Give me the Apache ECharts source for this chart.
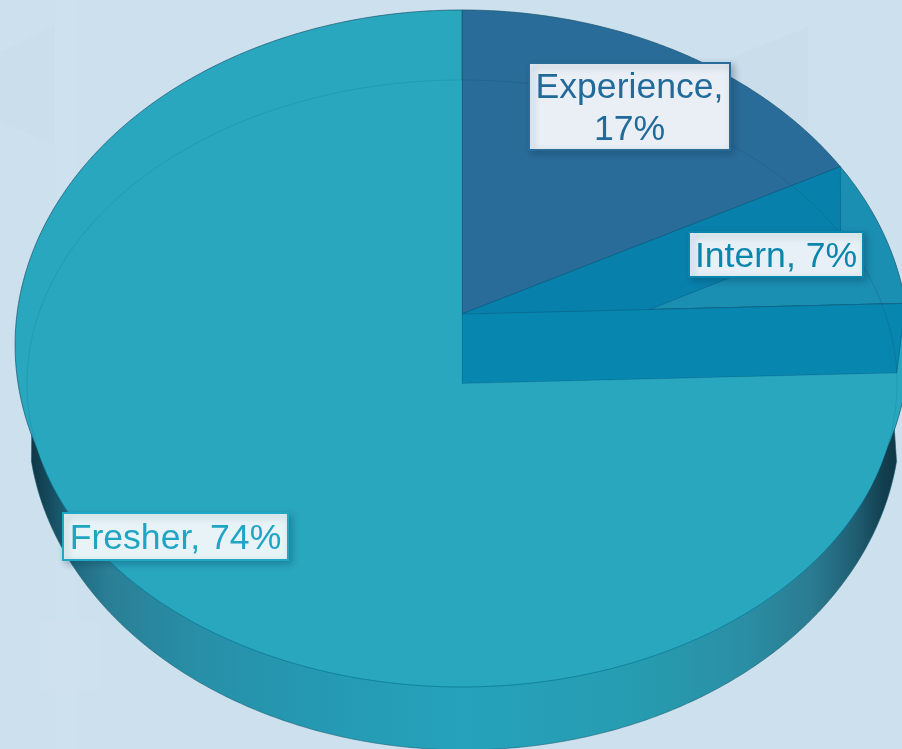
<!DOCTYPE html>
<html><head><meta charset="utf-8">
<style>html,body{margin:0;padding:0;background:#cde0ee}#c{width:902px;height:749px}</style>
<script src="https://cdn.jsdelivr.net/npm/echarts@6/dist/echarts.min.js"></script>
</head><body><div id="c"></div>
<script>
const categories = ['Experience', 'Intern', 'Fresher'];
const shares = [17, 7, 74];
const labelLines = ['Experience,\n17%', 'Intern, 7%', 'Fresher, 74%'];

const colors = ['#2a6c99', '#1a8fb2', '#28a7bf'];
const wallColors = ['#0781ac', '#0787b0'];
const labelText = ['#226a9a', '#0a86ad', '#1fa5c3'];
const labelFill = ['#e9eff5', '#e6f0f6', '#e7f3f7'];
const labelEdge = ['#2a6c99', '#0a86ad', '#1fa8c4'];
const labelBox = [[529, 63, 201, 87], [689, 232, 174, 45], [63, 513, 225, 47]];

const total = shares.reduce((a, b) => a + b, 0);
const cum = [0];
shares.forEach((v, i) => cum.push(cum[i] + v));
const angle = i => cum[i] / total * Math.PI * 2;

// upper rim of the disc, in perspective
const CX = 462, UY = 314, UA = 303.1, UC = -0.0925, UR = 445;
function upper(t) {
  const u = Math.sin(t), v = -Math.cos(t), d = 1 + UC * v;
  return [CX + UR * u / d, (UY + UA * v) / d];
}
// lower rim of the disc
const LY = 383.5, LRX = 435, LRY = 303.5;
function lower(t) {
  const s = t - 0.042 * Math.sin(2 * t);
  return [CX + LRX * Math.sin(s), LY - LRY * Math.cos(s)];
}
function arc(fn, a, b) {
  const pts = [], n = Math.max(2, Math.ceil(Math.abs(b - a) / 0.01));
  for (let i = 0; i <= n; i++) pts.push(fn(a + (b - a) * i / n));
  return pts;
}
// bottom silhouette
const BX = 464, BY = 420, BRX = 436, BRY = 330;
const bottom = t => [BX + BRX * Math.sin(t), BY - BRY * Math.cos(t)];

const wallGrad = new echarts.graphic.LinearGradient(0, 0, 1, 0, [
  {offset: 0, color: '#0f3646'}, {offset: 0.02, color: '#154a5c'},
  {offset: 0.05, color: '#1f6a80'}, {offset: 0.09, color: '#2a7f96'},
  {offset: 0.2, color: '#2790a8'}, {offset: 0.35, color: '#259ab4'},
  {offset: 0.5, color: '#26a2bc'}, {offset: 0.7, color: '#269cb0'},
  {offset: 0.82, color: '#2a8fa5'}, {offset: 0.9, color: '#2b7c92'},
  {offset: 0.95, color: '#205f74'}, {offset: 0.985, color: '#123f4f'},
  {offset: 1, color: '#0f3646'}
]);

function custom(z, data, renderItem) {
  return {type: 'custom', coordinateSystem: 'none', z, silent: true, animation: false,
          clip: false, data, renderItem};
}
const rows = shares.map((v, i) => [i, v]);

const option = {
  animation: false,
  backgroundColor: '#cde0ee',
  graphic: [
    {type: 'polygon', z: 0, shape: {points: [[0, 52], [55, 25], [55, 145], [0, 122]]},
     style: {fill: '#cadeeb'}},
    {type: 'polygon', z: 0, shape: {points: [[730, 58], [808, 27], [808, 150], [730, 120]]},
     style: {fill: '#c9ddeb'}},
    {type: 'rect', z: 0, shape: {x: 55, y: 0, width: 20, height: 749}, style: {fill: 'rgba(255,255,255,0.035)'}},
    {type: 'rect', z: 0, shape: {x: 40, y: 620, width: 60, height: 70}, style: {fill: 'rgba(255,255,255,0.03)'}}
  ],
  series: [
    // side wall
    custom(1, [rows[2]], () => {
      const pts = arc(bottom, Math.PI * 0.54, Math.PI * 1.46);
      return {type: 'polygon',
              shape: {points: [[CX, 300], [892, 395]].concat(pts, [[32, 400]])},
              style: {fill: wallGrad, stroke: 'rgba(20,90,110,0.55)', lineWidth: 1}};
    }),
    // upper face sectors
    custom(2, rows, (p) => {
      const i = p.dataIndex;
      const pts = [[CX, UY]].concat(arc(upper, angle(i), angle(i + 1)));
      return {type: 'polygon', shape: {points: pts},
              style: {fill: colors[i], stroke: 'rgba(25,85,110,0.7)', lineWidth: 1}};
    }),
    // radial walls between the sectors
    custom(3, [rows[0], rows[1]], (p) => {
      const i = p.dataIndex, t = angle(i + 1);
      return {type: 'polygon',
              shape: {points: [[CX, UY], upper(t), lower(t), [CX, LY]]},
              style: {fill: wallColors[i], stroke: 'rgba(10,100,140,0.7)', lineWidth: 1}};
    }),
    // lower face of the largest sector
    custom(4, [rows[2]], () => {
      const a = angle(2), b = angle(3);
      const pts = [[CX, LY]].concat(arc(lower, a, b));
      return {type: 'polygon', shape: {points: pts},
              style: {fill: colors[2], stroke: 'rgba(10,115,145,0.22)', lineWidth: 1}};
    }),
    // front of the lower rim, stronger than the back
    custom(5, [rows[2]], () => ({type: 'polyline', shape: {points: arc(lower, Math.PI * 0.62, Math.PI * 1.42)},
              style: {fill: 'none', stroke: 'rgba(10,120,150,0.6)', lineWidth: 1}})),
    // faint rim across the smaller sectors
    custom(5, [rows[0], rows[1]], (p) => {
      const i = p.dataIndex;
      return {type: 'polyline', shape: {points: arc(lower, angle(i), angle(i + 1))},
              style: {fill: 'none', stroke: 'rgba(20,80,110,0.28)', lineWidth: 1}};
    }),
    // labels
    custom(6, rows, (p) => {
      const i = p.dataIndex, b = labelBox[i];
      return {type: 'group', children: [
        {type: 'rect', shape: {x: b[0], y: b[1], width: b[2], height: b[3]},
         style: {fill: labelFill[i], stroke: labelEdge[i], lineWidth: 2,
                 shadowBlur: 7, shadowOffsetX: 3, shadowOffsetY: 3, shadowColor: 'rgba(10,50,80,0.3)'}},
        {type: 'text', x: b[0] + b[2] / 2, y: b[1] + b[3] / 2 + 3,
         style: {text: labelLines[i], fill: labelText[i], font: '35.6px "Liberation Sans", Arial, sans-serif',
                 lineHeight: 42, align: 'center', verticalAlign: 'middle'}}
      ]};
    })
  ]
};
echarts.init(document.getElementById('c'), null, {renderer: 'canvas'}).setOption(option);
</script></body></html>
